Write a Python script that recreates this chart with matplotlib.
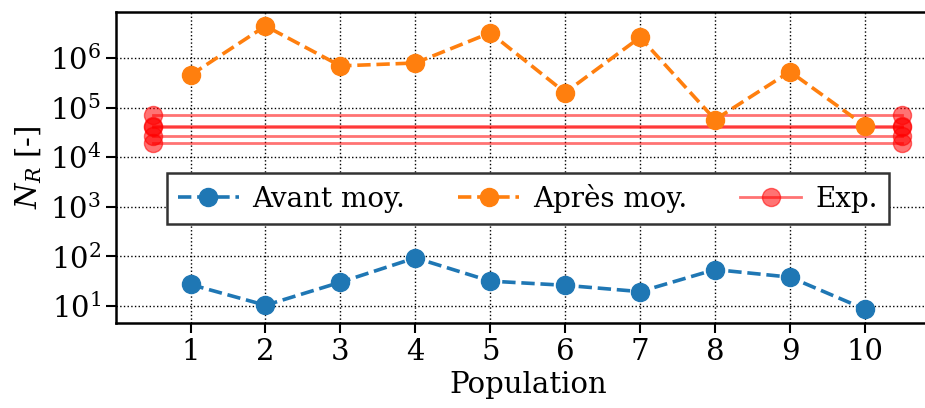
import numpy as np
import matplotlib
matplotlib.use('Agg')
import matplotlib.pyplot as plt
import matplotlib.ticker as ticker

# --- DONNEES ---
populations = [1, 2, 3, 4, 5, 6, 7, 8, 9, 10]
avant_moy = [27, 10.3, 30, 93, 31.6, 26, 19.4, 54, 38, 8.6]
apres_moy = [4.5e5, 4.4e6, 6.9e5, 7.9e5, 3.2e6, 2.0e5, 2.6e6, 5.7e4, 5.3e5, 4.3e4]
exp_valeurs = [7.2e4, 4.2e4, 4.0e4, 2.7e4, 1.9e4]
exp_x = [0.5, 10.5]

plt.rcParams['font.family'] = 'DejaVu Serif'
plt.rcParams['mathtext.fontset'] = 'dejavuserif'
plt.rcParams['font.size'] = 21

fig = plt.figure(figsize=(9.25, 4.08), dpi=100)
ax = fig.add_axes([0.125, 0.2076, 1.016 - 0.125, 0.971 - 0.2076])

ax.plot(populations, avant_moy, 'o--', color='tab:blue', lw=2.6, ms=13,
        label='Avant moy.', zorder=3)
ax.plot(populations, apres_moy, 'o--', color='tab:orange', lw=2.6, ms=13,
        label='Après moy.', zorder=3)

# lignes experimentales
for i, v in enumerate(exp_valeurs):
    ax.plot(exp_x, [v, v], 'o-', color='red', alpha=0.55, lw=2, ms=13,
            label='Exp.' if i == 0 else None, zorder=2)

ax.set_yscale('log')
ax.yaxis.set_major_locator(ticker.LogLocator(base=10, numticks=20))
ax.set_xticks(populations)
ax.minorticks_off()
ax.grid(True, linestyle=':', color='black', lw=1)
ax.tick_params(length=7, width=1.5)
for spine in ax.spines.values():
    spine.set_linewidth(1.8)

ax.set_xlabel('Population')
ax.set_ylabel('$N_R$ [-]')

leg = ax.legend(loc='center', bbox_to_anchor=(0.5, 0.4), ncol=3,
                fancybox=False, framealpha=1, edgecolor='#333333',
                columnspacing=1.9, handlelength=2.2, handletextpad=0.5,
                fontsize=20)
leg.get_frame().set_linewidth(1.8)

fig.savefig('out.png', dpi=100)
